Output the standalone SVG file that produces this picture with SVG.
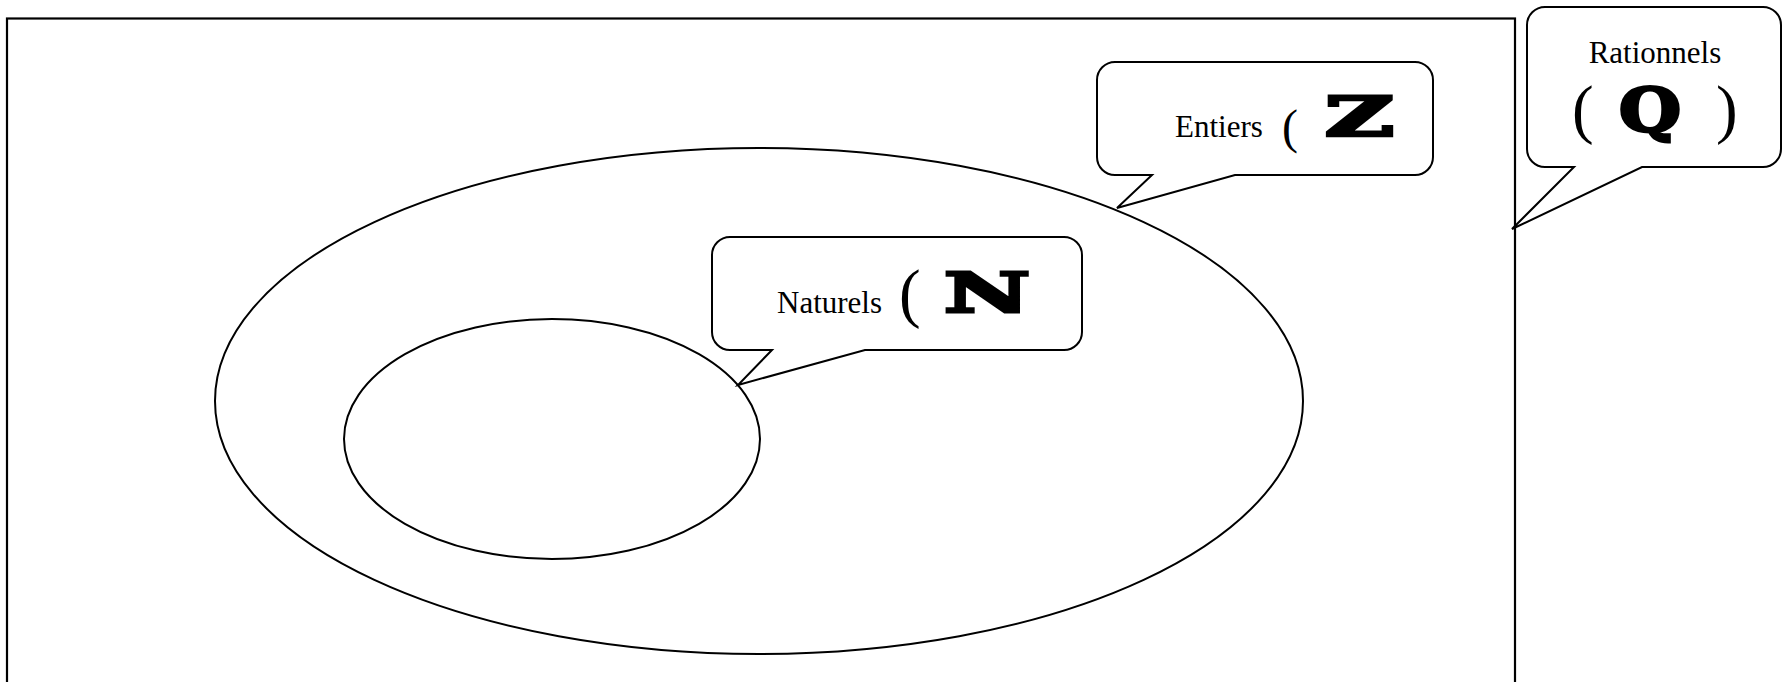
<svg xmlns="http://www.w3.org/2000/svg" width="1783" height="682" viewBox="0 0 1783 682">
<style>
.ln{fill:#fff;stroke:#000;stroke-width:2}
.el{fill:none;stroke:#000;stroke-width:2}
.lbl{font-family:"Liberation Serif","Times New Roman",serif;font-size:31px;fill:#000}
.par{font-family:"Liberation Serif","Times New Roman",serif;fill:#000}
.sym{font-family:"DejaVu Serif","Liberation Serif",serif;font-weight:bold;fill:#000;stroke:#000;stroke-width:3;stroke-linejoin:miter}
</style>
<rect width="1783" height="682" fill="#fff"/>
<g id="rationnels-set">
<rect x="7" y="18.5" width="1508" height="700" fill="none" stroke="#000" stroke-width="2.2"/>
</g>
<g id="entiers-set">
<ellipse class="el" cx="759" cy="401" rx="544" ry="253"/>
</g>
<g id="naturels-set">
<ellipse class="el" cx="552" cy="439" rx="208" ry="120"/>
</g>
<g id="connectors">
</g>
<g id="callout-rationnels">
<path class="ln" d="M1545,7 H1763 A18,18 0 0 1 1781,25 V149 A18,18 0 0 1 1763,167 H1642 L1512,229 L1574,167 H1545 A18,18 0 0 1 1527,149 V25 A18,18 0 0 1 1545,7 Z"/>
<text class="lbl" x="1655" y="63" text-anchor="middle">Rationnels</text>
<text class="par" x="1572" y="131" font-size="65">(</text>
<text class="sym" x="1619" y="131" font-size="60" textLength="62" lengthAdjust="spacingAndGlyphs">Q</text>
<text class="par" x="1716" y="131" font-size="65">)</text>
</g>
<g id="callout-entiers">
<path class="ln" d="M1115,62 H1415 A18,18 0 0 1 1433,80 V157 A18,18 0 0 1 1415,175 H1235 L1117,208 L1152,175 H1115 A18,18 0 0 1 1097,157 V80 A18,18 0 0 1 1115,62 Z"/>
<text class="lbl" x="1175" y="137">Entiers</text>
<text class="par" x="1282" y="143" font-size="48">(</text>
<text class="sym" x="1325" y="136" font-size="54" textLength="69" lengthAdjust="spacingAndGlyphs">Z</text>
</g>
<g id="callout-naturels">
<path class="ln" d="M730,237 H1064 A18,18 0 0 1 1082,255 V332 A18,18 0 0 1 1064,350 H865 L738,385 L772,350 H730 A18,18 0 0 1 712,332 V255 A18,18 0 0 1 730,237 Z"/>
<text class="lbl" x="777" y="313">Naturels</text>
<text class="par" x="899" y="315" font-size="65">(</text>
<text class="sym" x="944" y="312" font-size="55" textLength="86" lengthAdjust="spacingAndGlyphs">N</text>
</g>
</svg>
